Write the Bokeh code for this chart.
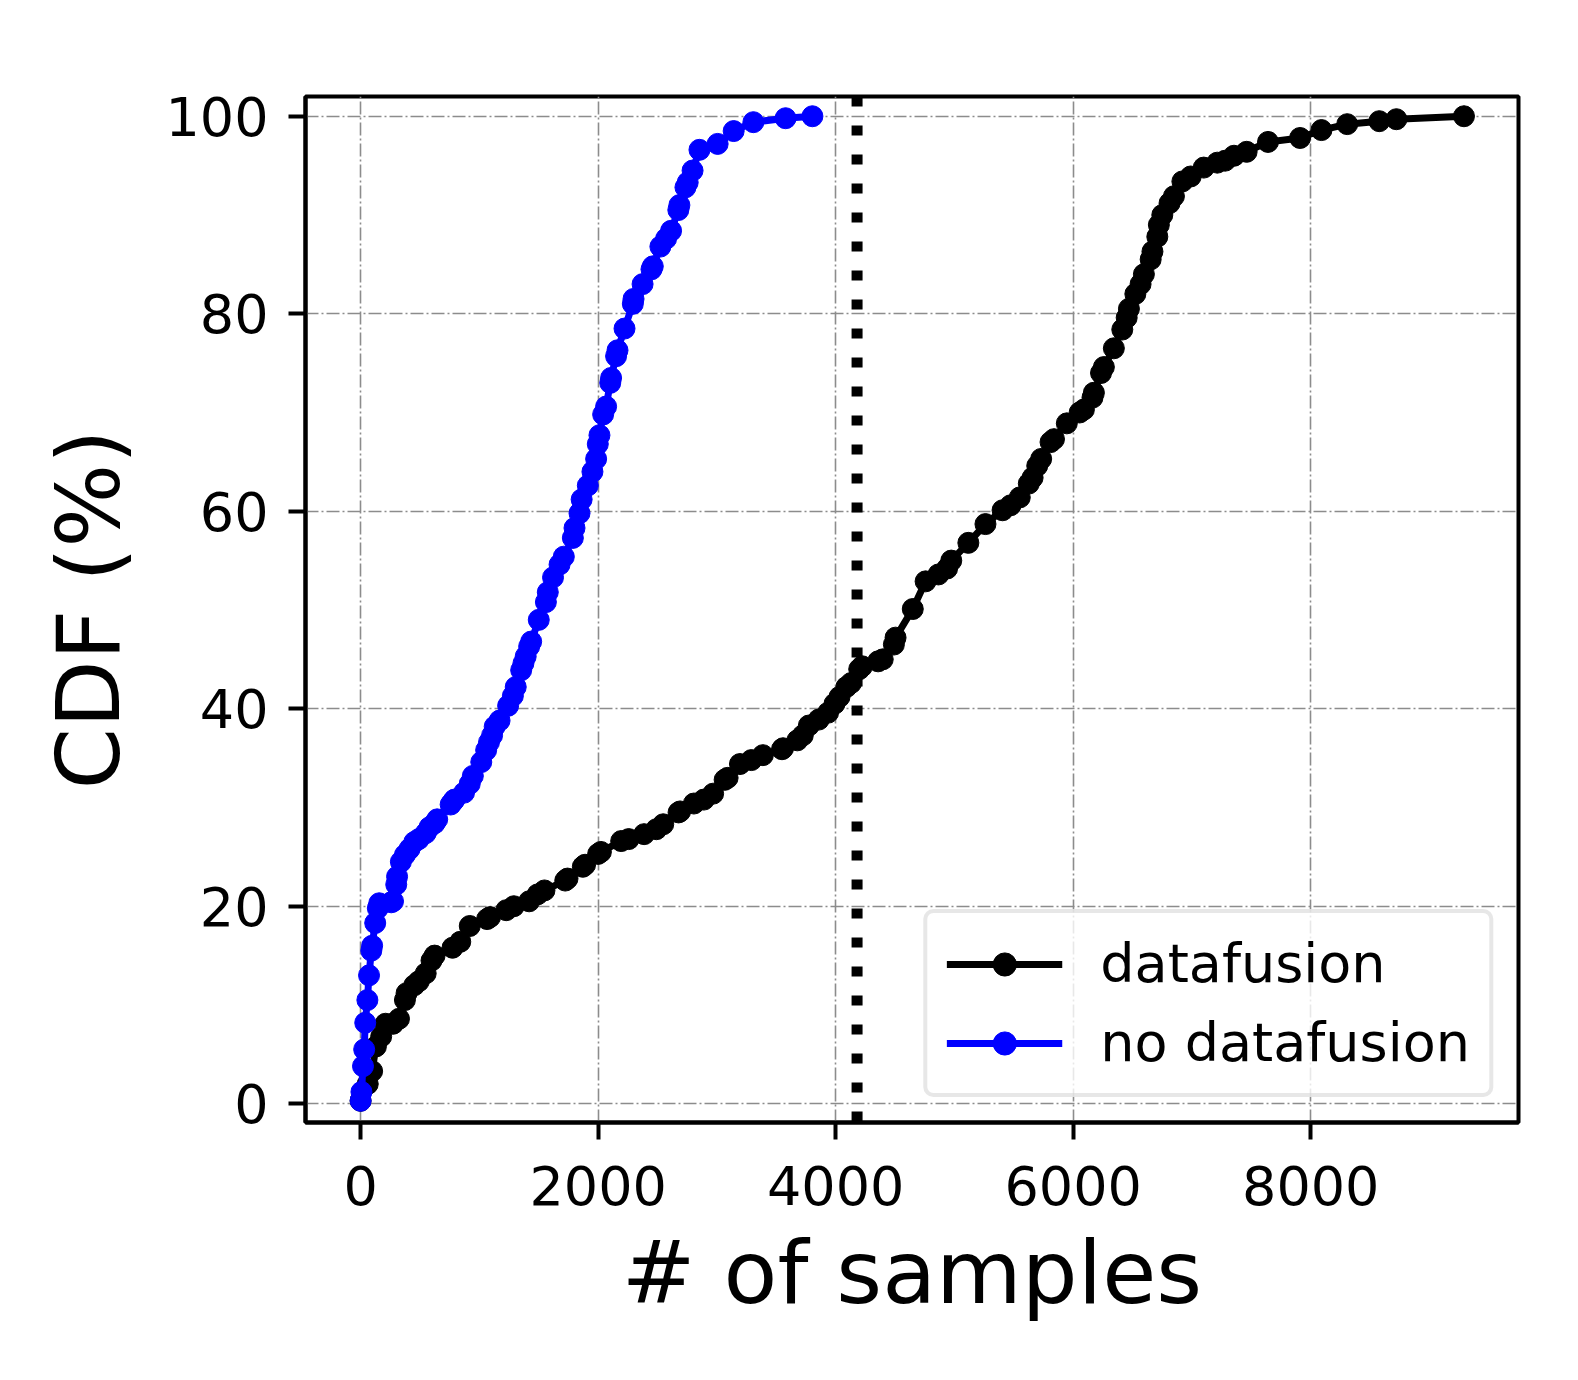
from bokeh.plotting import figure
from bokeh.models import Range1d, FixedTicker, Span, Legend, LegendItem
from bokeh.embed import file_html
from bokeh.resources import INLINE

# ---- data ----
fusion_x = [0, 60, 97, 129, 173, 210, 273, 323, 373, 387, 452, 490, 548, 597, 623, 774,
            839, 919, 1065, 1090, 1226, 1290, 1419, 1490, 1548, 1723, 1742, 1871, 1890,
            2000, 2023, 2194, 2257, 2387, 2490, 2548, 2677, 2690, 2806, 2890, 2968, 3065,
            3090, 3194, 3290, 3387, 3548, 3557, 3677, 3723, 3774, 3857, 3936, 3990, 4032,
            4090, 4129, 4198, 4223, 4357, 4396, 4490, 4504, 4649, 4757, 4865, 4938, 4973,
            5117, 5261, 5405, 5472, 5550, 5626, 5658, 5697, 5730, 5809, 5838, 5946, 6054,
            6090, 6162, 6174, 6234, 6258, 6342, 6413, 6450, 6469, 6523, 6567, 6595, 6652,
            6667, 6708, 6721, 6750, 6811, 6848, 6919, 6989, 7099, 7213, 7279, 7354, 7460,
            7640, 7910, 8090, 8307, 8577, 8721, 9290]
fusion_y = [0.3, 2.0, 3.3, 5.8, 6.8, 8.1, 8.1, 8.6, 10.5, 11.2, 12.0, 12.4, 13.2, 14.5, 15.0, 15.8,
            16.4, 18.0, 18.7, 18.9, 19.6, 20.0, 20.5, 21.2, 21.6, 22.6, 22.8, 24.0, 24.2,
            25.3, 25.5, 26.6, 26.8, 27.3, 27.8, 28.3, 29.5, 29.6, 30.4, 30.8, 31.4, 32.8,
            33.0, 34.4, 34.8, 35.3, 35.9, 36.0, 36.8, 37.3, 38.3, 38.9, 39.6, 40.5, 41.2,
            42.2, 42.6, 44.0, 44.3, 44.8, 45.0, 46.5, 47.2, 50.1, 52.9, 53.6, 54.2, 55.0,
            56.8, 58.7, 60.1, 60.6, 61.4, 62.8, 63.4, 64.6, 65.3, 67.0, 67.3, 68.9, 70.0,
            70.3, 71.5, 72.0, 74.0, 74.6, 76.5, 78.4, 79.6, 80.5, 82.0, 83.0, 84.0, 85.5,
            86.3, 87.8, 89.0, 90.0, 91.2, 91.9, 93.4, 93.9, 94.8, 95.3, 95.5, 96.0, 96.4,
            97.4, 97.8, 98.6, 99.2, 99.5, 99.7, 100.0]

nofusion_x = [0, 7, 20, 30, 39, 57, 71, 90, 97, 123, 145, 157, 258, 273, 300, 307, 339, 373,
              412, 452, 490, 548, 580, 623, 645, 758, 777, 790, 871, 919, 945, 1016, 1057,
              1081, 1107, 1129, 1170, 1242, 1282, 1306, 1352, 1371, 1390, 1419, 1436, 1500,
              1560, 1576, 1620, 1675, 1711, 1787, 1801, 1843, 1861, 1913, 1952, 1983, 1997,
              2011, 2042, 2067, 2102, 2109, 2151, 2163, 2222, 2292, 2298, 2374, 2449, 2460,
              2524, 2572, 2614, 2675, 2684, 2735, 2754, 2795, 2853, 3006, 3141, 3307, 3578, 3804]
nofusion_y = [0.3, 1.2, 3.8, 5.5, 8.2, 10.5, 13.0, 15.5, 16.0, 18.3, 19.8, 20.3, 20.4, 20.5, 22.2, 23.0, 24.5, 25.2,
              25.8, 26.5, 26.8, 27.4, 28.0, 28.4, 28.8, 30.3, 30.6, 30.8, 31.5, 32.4, 33.2, 34.6, 35.8,
              36.6, 37.3, 38.2, 38.8, 40.3, 41.3, 42.2, 43.9, 44.6, 45.3, 46.3, 46.8, 49.0,
              50.8, 51.8, 53.3, 54.6, 55.4, 57.3, 58.3, 59.8, 61.2, 62.6, 64.0, 65.3, 66.8,
              67.7, 69.8, 70.6, 73.0, 73.5, 75.7, 76.3, 78.5, 81.0, 81.5, 83.0, 84.5, 84.8,
              86.8, 87.6, 88.4, 90.5, 91.0, 92.8, 93.3, 94.5, 96.6, 97.2, 98.5, 99.4, 99.8, 100.0]

threshold_x = 4180
x_ticks = [0, 2000, 4000, 6000, 8000]
y_ticks = [0, 20, 40, 60, 80, 100]
labels = ["datafusion", "no datafusion"]

FONT = "DejaVu Sans"

p = figure(frame_width=1213, frame_height=1026,
           min_border_left=305, min_border_right=44, min_border_top=96, min_border_bottom=242,
           x_range=Range1d(-464, 9749), y_range=Range1d(-1.9, 102.0),
           output_backend="svg", toolbar_location=None)
p.background_fill_color = "white"
p.border_fill_color = "white"
p.outline_line_color = "black"
p.outline_line_width = 4

# grid
for g in (p.xgrid, p.ygrid):
    g.grid_line_color = "#8c8c8c"
    g.grid_line_width = 1.6
    g.grid_line_dash = "13 3 2 3"
p.xgrid.ticker = FixedTicker(ticks=x_ticks)
p.ygrid.ticker = FixedTicker(ticks=y_ticks)

# axes
p.xaxis.ticker = FixedTicker(ticks=x_ticks)
p.yaxis.ticker = FixedTicker(ticks=y_ticks)
for ax in (p.xaxis, p.yaxis):
    ax.axis_line_width = 4
    ax.axis_line_color = "black"
    ax.major_tick_line_width = 4
    ax.major_tick_line_color = "black"
    ax.major_tick_out = 17
    ax.major_tick_in = 0
    ax.minor_tick_line_color = None
    ax.major_label_text_font = FONT
    ax.major_label_text_font_size = "54px"
    ax.major_label_text_color = "black"
    ax.axis_label_text_font = FONT
    ax.axis_label_text_font_size = "88px"
    ax.axis_label_text_font_style = "normal"
    ax.axis_label_text_color = "black"
p.xaxis.major_label_standoff = 26
p.yaxis.major_label_standoff = 20
p.xaxis.axis_label = "# of samples"
p.yaxis.axis_label = "CDF (%)"
p.xaxis.axis_label_standoff = 13
p.yaxis.axis_label_standoff = 22

# threshold line
p.add_layout(Span(location=threshold_x, dimension="height", line_color="black",
                  line_width=11, line_dash="10 19"))

# series
l1 = p.line(fusion_x, fusion_y, line_color="black", line_width=7)
s1 = p.scatter(fusion_x, fusion_y, size=21, fill_color="black", line_color="black")
l2 = p.line(nofusion_x, nofusion_y, line_color="#0000ff", line_width=7)
s2 = p.scatter(nofusion_x, nofusion_y, size=21, fill_color="#0000ff", line_color="#0000ff")

legend = Legend(items=[LegendItem(label=labels[0], renderers=[l1, s1]),
                       LegendItem(label=labels[1], renderers=[l2, s2])],
                location="bottom_right")
legend.margin = 25
legend.padding = 19
legend.spacing = 16
legend.glyph_width = 116
legend.glyph_height = 58
legend.label_standoff = 38
legend.label_text_font = FONT
legend.label_text_font_size = "54px"
legend.label_text_color = "black"
legend.border_line_color = "#d0d0d0"
legend.border_line_width = 4
legend.border_radius = 10
legend.background_fill_color = "white"
legend.background_fill_alpha = 0.8
p.add_layout(legend)

open("out.html", "w").write(file_html(p, INLINE))
